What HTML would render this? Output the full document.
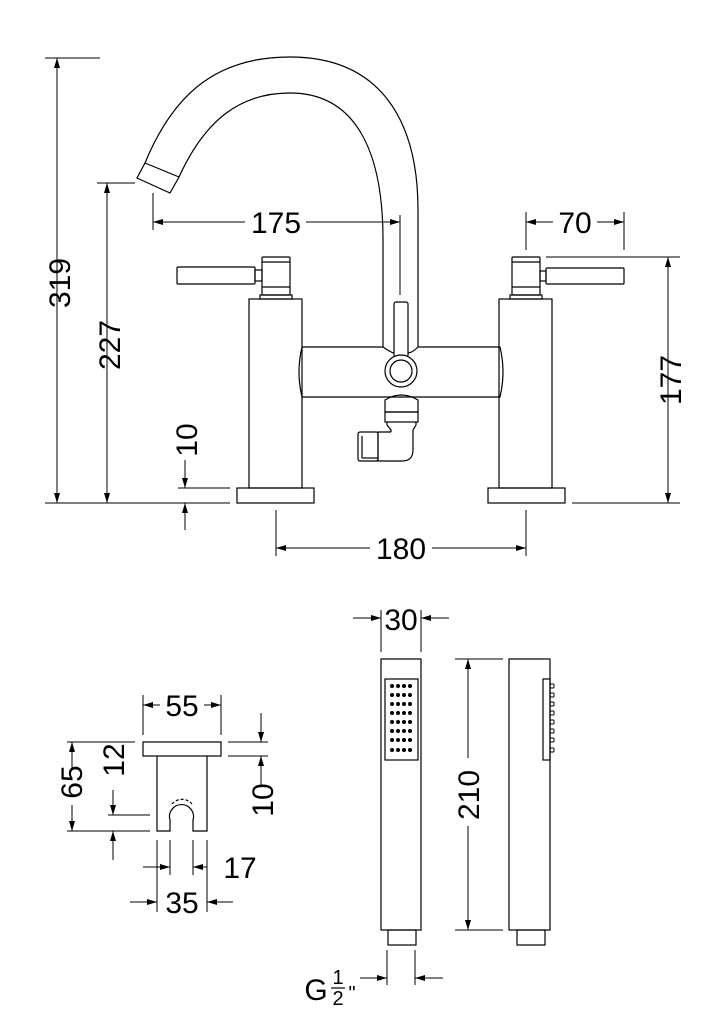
<!DOCTYPE html>
<html><head><style>html,body{margin:0;padding:0;background:#fff}svg{display:block}</style></head>
<body>
<svg width="724" height="1024" viewBox="0 0 724 1024" xmlns="http://www.w3.org/2000/svg" font-family="Liberation Sans, sans-serif" fill="none" stroke="#000" stroke-width="1.2">
<defs>
<marker id="a" viewBox="0 0 10 6" refX="10" refY="3" markerWidth="10" markerHeight="6" markerUnits="userSpaceOnUse" orient="auto-start-reverse"><path d="M0,0L10,3L0,6z" fill="#000" stroke="none"/></marker>
</defs>
<g stroke-width="1">
<line x1="45" y1="58" x2="100" y2="58"/>
<line x1="57" y1="58" x2="57" y2="503" marker-start="url(#a)" marker-end="url(#a)"/>
<line x1="97" y1="183" x2="135" y2="183"/>
<line x1="107" y1="183" x2="107" y2="503" marker-start="url(#a)" marker-end="url(#a)"/>
<line x1="45" y1="503" x2="230" y2="503"/>
<line x1="178" y1="488" x2="230" y2="488"/>
<line x1="185" y1="460" x2="185" y2="488" marker-end="url(#a)"/>
<line x1="185" y1="530" x2="185" y2="503" marker-end="url(#a)"/>
<line x1="153" y1="193" x2="153" y2="230"/>
<line x1="400" y1="215" x2="400" y2="295"/>
<line x1="153" y1="222" x2="245" y2="222" marker-start="url(#a)"/>
<line x1="306" y1="222" x2="400" y2="222" marker-end="url(#a)"/>
<line x1="526" y1="212" x2="526" y2="250"/>
<line x1="624" y1="212" x2="624" y2="250"/>
<line x1="526" y1="222" x2="553" y2="222" marker-start="url(#a)"/>
<line x1="597" y1="222" x2="624" y2="222" marker-end="url(#a)"/>
<line x1="546" y1="257" x2="680" y2="257"/>
<line x1="572" y1="503" x2="680" y2="503"/>
<line x1="668" y1="257" x2="668" y2="503" marker-start="url(#a)" marker-end="url(#a)"/>
<line x1="276" y1="510" x2="276" y2="556"/>
<line x1="526" y1="510" x2="526" y2="556"/>
<line x1="276" y1="548" x2="370" y2="548" marker-start="url(#a)"/>
<line x1="432" y1="548" x2="526" y2="548" marker-end="url(#a)"/>
</g>
<path d="M145,163 C175,90 220,57 290,57 C380,57 418,120 418,210 L418,347"/>
<path d="M179,177 C205,120 240,93 290,93 C355,93 383,150 383,240 L383,347"/>
<path d="M145,163 L179,177 L170,193 L137,178 Z"/>
<path d="M302,347 L383,347 Q392,353 394,353 M408,353 Q412,353 418,347 L500,347 Q506,372 500,397 L302,397 Q296,372 302,347"/>
<rect x="394" y="302" width="14" height="55" rx="2"/>
<circle cx="401" cy="371" r="16" fill="#fff"/>
<circle cx="401" cy="371" r="11"/>
<rect x="249" y="299" width="53" height="189"/>
<rect x="237" y="488" width="77" height="15"/>
<rect x="499" y="299" width="53" height="189"/>
<rect x="488" y="488" width="77" height="15"/>
<rect x="262" y="257" width="28" height="38" rx="1"/>
<line x1="262" y1="262" x2="290" y2="262"/><line x1="262" y1="287" x2="290" y2="287"/>
<rect x="260" y="295" width="32" height="4"/>
<rect x="177" y="267" width="78" height="17" rx="1"/>
<rect x="255" y="270" width="7" height="11"/>
<rect x="512" y="257" width="28" height="38" rx="1"/>
<line x1="512" y1="262" x2="540" y2="262"/><line x1="512" y1="287" x2="540" y2="287"/>
<rect x="510" y="295" width="32" height="4"/>
<rect x="546" y="268" width="78" height="16" rx="1"/>
<rect x="540" y="271" width="6" height="10"/>
<path d="M385,400 Q401,390 418,400 L418,412 L385,412 Z"/>
<rect x="385" y="412" width="33" height="10"/>
<path d="M387,422 L387,425 L391,430 L391,432 M416,422 L416,425 L413,430 L413,450 Q413,461 402,461 L378,461 L378,432 L391,432"/>
<rect x="358" y="432" width="20" height="29" rx="2"/>
<line x1="362" y1="436" x2="362" y2="458"/><line x1="362" y1="458" x2="378" y2="458"/>
<g fill="#000" stroke="none" font-size="30" text-anchor="middle">
<text x="276" y="233">175</text>
<text x="575" y="233">70</text>
<text x="401" y="559">180</text>
<text transform="translate(70,283) rotate(-90)">319</text>
<text transform="translate(120,345) rotate(-90)">227</text>
<text transform="translate(197,440) rotate(-90)">10</text>
<text transform="translate(681,380) rotate(-90)">177</text>
</g>
<rect x="143" y="742" width="78" height="14"/>
<path d="M157,756 L157,831 L170,831 L170,820 A12,12 0 1 1 193,820 L193,831 L207,831 L207,756"/>
<path d="M172,804 A13,13 0 0 1 192,804" stroke-dasharray="3,2"/>
<g stroke-width="1">
<line x1="143" y1="695" x2="143" y2="735"/><line x1="221" y1="695" x2="221" y2="735"/>
<line x1="143" y1="705" x2="160" y2="705" marker-start="url(#a)"/><line x1="204" y1="705" x2="221" y2="705" marker-end="url(#a)"/>
<line x1="228" y1="742" x2="268" y2="742"/><line x1="228" y1="756" x2="268" y2="756"/>
<line x1="261" y1="713" x2="261" y2="742" marker-end="url(#a)"/><line x1="261" y1="785" x2="261" y2="756" marker-end="url(#a)"/>
<line x1="67" y1="742" x2="135" y2="742"/><line x1="67" y1="831" x2="150" y2="831"/>
<line x1="72" y1="742" x2="72" y2="768" marker-start="url(#a)"/><line x1="72" y1="805" x2="72" y2="831" marker-end="url(#a)"/>
<line x1="108" y1="815" x2="150" y2="815"/>
<line x1="113" y1="790" x2="113" y2="815" marker-end="url(#a)"/><line x1="113" y1="860" x2="113" y2="831" marker-end="url(#a)"/>
<line x1="157" y1="840" x2="157" y2="912"/><line x1="207" y1="840" x2="207" y2="912"/>
<line x1="170" y1="840" x2="170" y2="875"/><line x1="193" y1="840" x2="193" y2="875"/>
<line x1="143" y1="867" x2="170" y2="867" marker-end="url(#a)"/><line x1="207" y1="867" x2="193" y2="867" marker-end="url(#a)"/>
<line x1="130" y1="902" x2="157" y2="902" marker-end="url(#a)"/><line x1="233" y1="902" x2="207" y2="902" marker-end="url(#a)"/>
</g>
<g fill="#000" stroke="none" font-size="30" text-anchor="middle">
<text x="182" y="716">55</text>
<text x="240" y="878">17</text>
<text x="182" y="913">35</text>
<text transform="translate(82,782) rotate(-90)">65</text>
<text transform="translate(124,760) rotate(-90)">12</text>
<text transform="translate(273,800) rotate(-90)">10</text>
<text x="401" y="630">30</text>
<text transform="translate(479,795) rotate(-90)">210</text>
<text x="316" y="1000">G</text>
</g>
<g fill="#000" stroke="none" font-size="20" text-anchor="middle">
<text x="338" y="984">1</text>
<text x="338" y="1005">2</text>
<text x="352" y="1000">"</text>
</g>
<line x1="331" y1="988" x2="345" y2="988" stroke-width="1.2"/>
<rect x="381" y="659" width="40" height="271"/>
<rect x="385" y="679" width="33" height="81"/>
<g fill="#000" stroke="none">
<circle cx="392" cy="686" r="2"/><circle cx="398" cy="686" r="2"/><circle cx="404" cy="686" r="2"/><circle cx="410" cy="686" r="2"/>
<circle cx="392" cy="695" r="2"/><circle cx="398" cy="695" r="2"/><circle cx="404" cy="695" r="2"/><circle cx="410" cy="695" r="2"/>
<circle cx="392" cy="704" r="2"/><circle cx="398" cy="704" r="2"/><circle cx="404" cy="704" r="2"/><circle cx="410" cy="704" r="2"/>
<circle cx="392" cy="713" r="2"/><circle cx="398" cy="713" r="2"/><circle cx="404" cy="713" r="2"/><circle cx="410" cy="713" r="2"/>
<circle cx="392" cy="722" r="2"/><circle cx="398" cy="722" r="2"/><circle cx="404" cy="722" r="2"/><circle cx="410" cy="722" r="2"/>
<circle cx="392" cy="731" r="2"/><circle cx="398" cy="731" r="2"/><circle cx="404" cy="731" r="2"/><circle cx="410" cy="731" r="2"/>
<circle cx="392" cy="740" r="2"/><circle cx="398" cy="740" r="2"/><circle cx="404" cy="740" r="2"/><circle cx="410" cy="740" r="2"/>
<circle cx="392" cy="750" r="2"/><circle cx="398" cy="750" r="2"/><circle cx="404" cy="750" r="2"/><circle cx="410" cy="750" r="2"/>
</g>
<rect x="388" y="930" width="28" height="15"/>
<rect x="509" y="659" width="41" height="271"/>
<rect x="543" y="679" width="7" height="81"/>
<g stroke-width="1">
<rect x="550" y="684" width="4" height="4" rx="1"/><rect x="550" y="693" width="4" height="4" rx="1"/><rect x="550" y="702" width="4" height="4" rx="1"/><rect x="550" y="711" width="4" height="4" rx="1"/><rect x="550" y="720" width="4" height="4" rx="1"/><rect x="550" y="729" width="4" height="4" rx="1"/><rect x="550" y="738" width="4" height="4" rx="1"/><rect x="550" y="748" width="4" height="4" rx="1"/>
</g>
<rect x="517" y="930" width="28" height="15"/>
<g stroke-width="1">
<line x1="381" y1="610" x2="381" y2="652"/><line x1="421" y1="610" x2="421" y2="652"/>
<line x1="353" y1="618" x2="381" y2="618" marker-end="url(#a)"/><line x1="449" y1="618" x2="421" y2="618" marker-end="url(#a)"/>
<line x1="455" y1="659" x2="503" y2="659"/><line x1="455" y1="930" x2="503" y2="930"/>
<line x1="468" y1="659" x2="468" y2="758" marker-start="url(#a)"/><line x1="468" y1="826" x2="468" y2="930" marker-end="url(#a)"/>
<line x1="387" y1="950" x2="387" y2="985"/><line x1="415" y1="950" x2="415" y2="985"/>
<line x1="360" y1="978" x2="387" y2="978" marker-end="url(#a)"/><line x1="443" y1="978" x2="415" y2="978" marker-end="url(#a)"/>
</g>
</svg>
</body></html>
